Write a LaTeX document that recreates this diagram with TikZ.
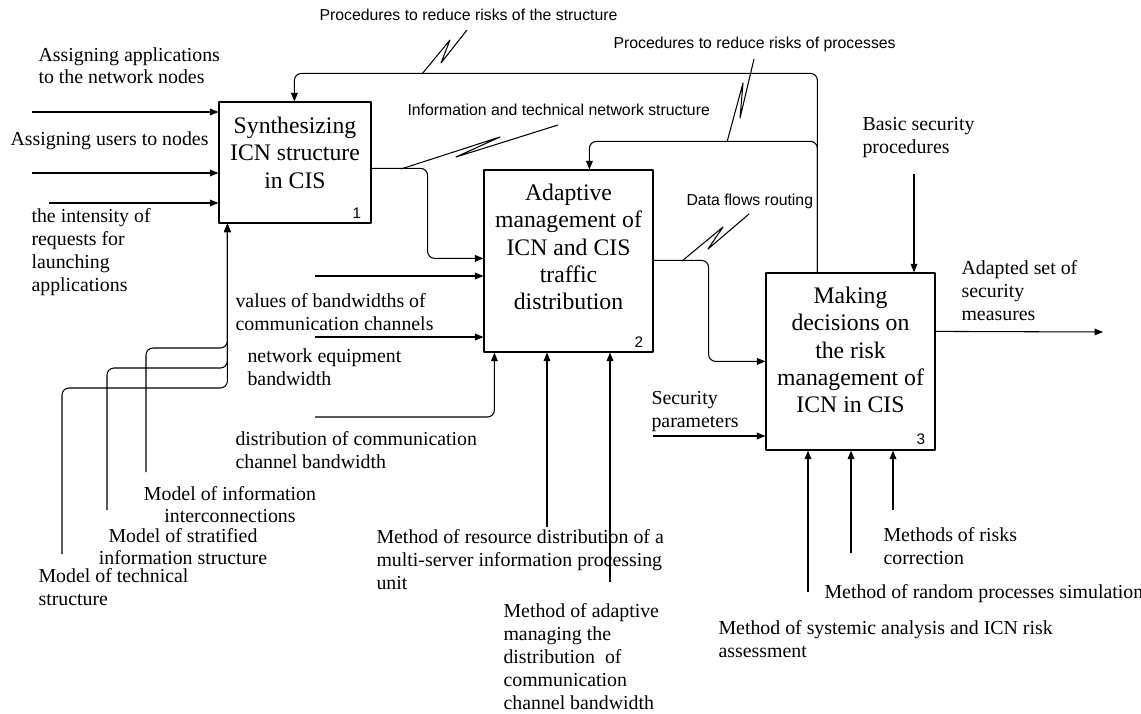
\documentclass[tikz,border=0pt]{standalone}
\usepackage{fontspec}
\setmainfont{Liberation Serif}
\setsansfont{Liberation Sans}
\usetikzlibrary{arrows.meta,calc}
\begin{document}
\begin{tikzpicture}[x=0.02cm,y=-0.02cm,>={Triangle[length=4.8pt,width=3.8pt]},line join=round,line width=0.6pt,
	box/.style={draw,line width=0.7pt,inner sep=0pt},
	title/.style={font=\fontsize{13.5}{15.6}\selectfont,align=center,inner sep=0pt},
	lbl/.style={font=\fontsize{11.3}{13.05}\selectfont,align=left,anchor=base west,inner sep=0pt},
	clbl/.style={font=\fontsize{11.3}{12.5}\selectfont,align=center,anchor=base,inner sep=0pt},
	tag/.style={font=\sffamily\fontsize{9}{10}\selectfont,anchor=base west,inner sep=0pt},
	num/.style={font=\sffamily\fontsize{8.7}{10}\selectfont,anchor=south east,inner xsep=0.2cm,inner ysep=0.1cm},
	link/.style={rounded corners=4pt}]
	\useasboundingbox (0,0) rectangle (1141,713);
	% activity boxes
	\node[box,minimum width=3.04cm,minimum height=2.42cm] (b1) at (295,162.5) {};
	\node[box,minimum width=3.38cm,minimum height=3.64cm] (b2) at (568.5,261) {};
	\node[box,minimum width=3.38cm,minimum height=3.54cm] (b3) at (850.5,361.5) {};
	\node[title] (t1) at (295,152.5) {Synthesizing\\ICN structure\\in CIS};
	\node[title] (t2) at (568.5,247) {Adaptive\\management of\\ICN and CIS\\traffic\\distribution};
	\node[title] (t3) at (850.5,350) {Making\\decisions on\\the risk\\management of\\ICN in CIS};
	\node[num] (n1) at (b1.south east) {1};
	\node[num] (n2) at (b2.south east) {2};
	\node[num] (n3) at (b3.south east) {3};
	% labels (base = last line)
	\node[lbl] (la1) at (38,84) {Assigning applications\\to the network nodes};
	\node[lbl] (la2) at (10,145) {Assigning users to nodes};
	\node[lbl] (la3) at (31,291) {the intensity of\\requests for\\launching\\applications};
	\node[lbl] (lv) at (235,330) {values of bandwidths of\\communication channels};
	\node[lbl] (le) at (247,385) {network equipment\\bandwidth};
	\node[lbl] (ld) at (235,468) {distribution of communication\\channel bandwidth};
	\node[clbl] (mi) at (230,522) {Model of information\\interconnections};
	\node[clbl] (ms) at (183,564) {Model of stratified\\information structure};
	\node[lbl] (mt) at (38,605) {Model of technical\\structure};
	\node[lbl] (mr) at (376,589) {Method of resource distribution of a\\multi-server information processing\\unit};
	\node[lbl] (ma) at (503,709) {Method of adaptive\\managing the\\distribution\ \ of\\communication\\channel bandwidth};
	\node[lbl] (sp) at (651,427) {Security\\parameters};
	\node[lbl] (bs) at (862,153) {Basic security\\procedures};
	\node[lbl] (as) at (961,320) {Adapted set of\\security\\measures};
	\node[lbl] (mc) at (883,564) {Methods of risks\\correction};
	\node[lbl] (mrp) at (824,598) {Method of random processes simulation};
	\node[lbl] (msa) at (718,657) {Method of systemic analysis and ICN risk\\assessment};
	\node[tag] (p1) at (319,21) {Procedures to reduce risks of the structure};
	\node[tag] (p2) at (613,49) {Procedures to reduce risks of processes};
	\node[tag] (p3) at (407,115) {Information and technical network structure};
	\node[tag] (p4) at (686,205) {Data flows routing};
	% free ends
	\coordinate (i1a) at (32,112); \coordinate (i1b) at (32,173); \coordinate (i1c) at (49,203);
	\coordinate (i2a) at (315,276); \coordinate (i2b) at (315,337); \coordinate (i2c) at (315,417);
	\coordinate (mi0) at (146,472); \coordinate (ms0) at (107,510); \coordinate (mt0) at (62,554);
	\coordinate (m2a) at (547,527); \coordinate (m2b) at (610,582);
	\coordinate (sp0) at (653,436); \coordinate (bs0) at (914,174); \coordinate (o3) at (1103,332);
	\coordinate (m3a) at (808,592); \coordinate (m3b) at (851,553); \coordinate (m3c) at (893,510);
	% box 1
	\draw[->] (i1a) -- (i1a -| b1.west);
	\draw[->] (i1b) -- (i1b -| b1.west);
	\draw[->] (i1c) -- (i1c -| b1.west);
	\draw[->,link] (mi0) -- ++(0,-124) -| ($(b1.south west)+(9,0)$);
	\draw[->,link] (ms0) -- ++(0,-142) -| ($(b1.south west)+(9,0)$);
	\draw[->,link] (mt0) -- ++(0,-166) -| ($(b1.south west)+(9,0)$);
	\draw[->,link] ($(b1.north east)+(0,67)$) -- ++(56,0) |- ($(b2.north west)+(0,89)$);
	% box 2
	\draw[->] (i2a) -- (i2a -| b2.west);
	\draw[->] (i2b) -- (i2b -| b2.west);
	\draw[->,link] (i2c) -| ($(b2.south west)+(11,0)$);
	\draw[->] (m2a) -- (m2a |- b2.south);
	\draw[->] (m2b) -- (m2b |- b2.south);
	\draw[->,link] ($(b2.north east)+(0,91)$) -- ++(55,0) |- ($(b3.north west)+(0,89)$);
	% box 3
	\draw[->] (bs0) -- (bs0 |- b3.north);
	\draw[->] (sp0) -- (sp0 -| b3.west);
	\draw[->] ($(b3.north east)+(0,59)$) -- (o3);
	\draw[->] (m3a) -- (m3a |- b3.south);
	\draw[->] (m3b) -- (m3b |- b3.south);
	\draw[->] (m3c) -- (m3c |- b3.south);
	% feedback
	\draw[->,link] ($(b3.north west)+(52,0)$) -- ++(0,-199) -| ($(b1.north west)+(76,0)$);
	\draw[->,link] ($(b3.north west)+(52,0)$) -- ++(0,-131) -| ($(b2.north west)+(106,0)$);
	% squiggles
	\draw (422,74) -- ++(28,-34) -- ++(-9,23) -- ++(26,-33);
	\draw (727,142) -- ++(16,-59) -- ++(-3,35) -- ++(14,-59);
	\draw (401,169) -- ++(99,-32) -- ++(-44,20) -- ++(102,-32);
	\draw (682,261) -- ++(41,-34) -- ++(-15,22) -- ++(41,-35);
\end{tikzpicture}
\end{document}
